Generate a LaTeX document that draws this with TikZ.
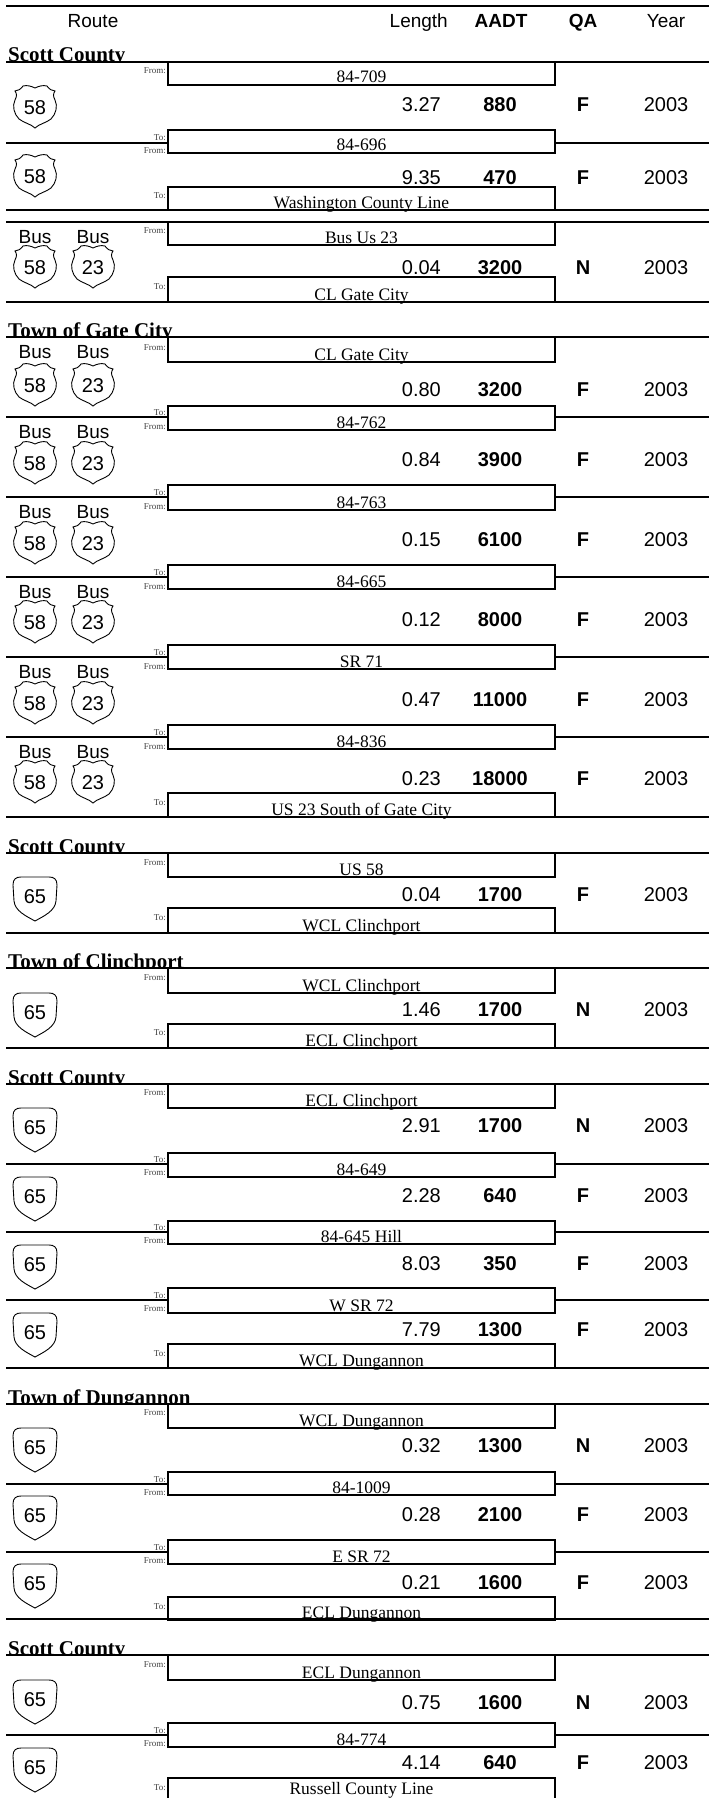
\documentclass[tikz,border=0pt]{standalone}
\usepackage{fontspec}
\setmainfont{Liberation Serif}
\setsansfont{Liberation Sans}
\tikzset{
  usshield/.pic={\draw[line width=0.9pt] (0,-19) .. controls (-4,-21) and (-8,-22) .. (-12,-21)
    .. controls (-14,-18) and (-17,-16) .. (-20,-16) .. controls (-18,-13) and (-18,-11) .. (-20,-7)
    .. controls (-23,-1) and (-21,7) .. (-16,12) .. controls (-11,16) and (-4,17) .. (0,21)
    .. controls (4,17) and (11,16) .. (16,12) .. controls (21,7) and (23,-1) .. (20,-7)
    .. controls (18,-11) and (18,-13) .. (20,-16) .. controls (17,-16) and (14,-18) .. (12,-21)
    .. controls (8,-22) and (4,-21) .. (0,-19) -- cycle;},
  vashield/.pic={\draw[line width=0.9pt] (-14,-22) -- (14,-22) .. controls (19,-22) and (22,-20) .. (22,-14)
    -- (21,2) .. controls (20,12) and (9,17) .. (0,22) .. controls (-9,17) and (-20,12) .. (-21,2)
    -- (-22,-14) .. controls (-22,-20) and (-19,-22) .. (-14,-22) -- cycle;}
}
\begin{document}
\begin{tikzpicture}[x=1pt,y=-1pt]
\tikzstyle{every node}+=[inner sep=0pt]
\tikzstyle{hrule}=[line width=2.5pt]
\tikzstyle{framebox}=[line width=2.5pt]
\tikzstyle{head}=[font=\sffamily\fontsize{19}{19}\selectfont, anchor=base]
\tikzstyle{headb}=[font=\sffamily\bfseries\fontsize{19}{19}\selectfont, anchor=base]
\tikzstyle{sect}=[font=\bfseries\fontsize{21}{21}\selectfont, anchor=base west]
\tikzstyle{placename}=[font=\fontsize{17.5}{17.5}\selectfont, anchor=base]
\tikzstyle{tag}=[font=\fontsize{9}{9}\selectfont, anchor=east, text=black!75]
\tikzstyle{len}=[font=\sffamily\fontsize{20}{20}\selectfont, anchor=east]
\tikzstyle{num}=[font=\sffamily\bfseries\fontsize{20}{20}\selectfont]
\tikzstyle{val}=[font=\sffamily\fontsize{20}{20}\selectfont]
\tikzstyle{routeno}=[font=\sffamily\fontsize{20}{20}\selectfont]
\tikzstyle{bus}=[font=\sffamily\fontsize{19}{19}\selectfont]
\useasboundingbox (0,0) rectangle (709,1798);
\draw (93,28) node[head] (hroute) {Route};
\draw (448,28) node[head, anchor=base east] (hlen) {Length};
\draw (501,28) node[headb] (haadt) {AADT};
\draw (583,28) node[headb] (hqa) {QA};
\draw (666,28) node[head] (hyear) {Year};
\begin{scope}
\clip (0,30) rectangle (300,62) (0,305) rectangle (300,337) (0,820) rectangle (300,853)
  (0,935) rectangle (300,968) (0,1050) rectangle (300,1084) (0,1370) rectangle (300,1404)
  (0,1621) rectangle (300,1655);
\draw (8,62) node[sect] (sec1) {Scott County};
\draw (8,337) node[sect] (sec2) {Town of Gate City};
\draw (8,853) node[sect] (sec3) {Scott County};
\draw (8,968) node[sect] (sec4) {Town of Clinchport};
\draw (8,1084) node[sect] (sec5) {Scott County};
\draw (8,1404) node[sect] (sec6) {Town of Dungannon};
\draw (8,1655) node[sect] (sec7) {Scott County};
\end{scope}
\draw (166,71) node[tag] (fA) {From:};
\draw (166,138) node[tag] (tA) {To:};
\draw (166,151) node[tag] (fB) {From:};
\draw (166,196) node[tag] (tB) {To:};
\draw (166,231) node[tag] (fC) {From:};
\draw (166,287) node[tag] (tC) {To:};
\draw (166,348) node[tag] (fD) {From:};
\draw (166,413) node[tag] (tD) {To:};
\draw (166,427) node[tag] (fE) {From:};
\draw (166,493) node[tag] (tE) {To:};
\draw (166,507) node[tag] (fF) {From:};
\draw (166,573) node[tag] (tF) {To:};
\draw (166,587) node[tag] (fG) {From:};
\draw (166,653) node[tag] (tG) {To:};
\draw (166,667) node[tag] (fH) {From:};
\draw (166,733) node[tag] (tH) {To:};
\draw (166,747) node[tag] (fI) {From:};
\draw (166,803) node[tag] (tI) {To:};
\draw (166,863) node[tag] (fJ) {From:};
\draw (166,918) node[tag] (tJ) {To:};
\draw (166,978) node[tag] (fK) {From:};
\draw (166,1033) node[tag] (tK) {To:};
\draw (166,1093) node[tag] (fL) {From:};
\draw (166,1160) node[tag] (tL) {To:};
\draw (166,1173) node[tag] (fM) {From:};
\draw (166,1228) node[tag] (tM) {To:};
\draw (166,1241) node[tag] (fN) {From:};
\draw (166,1296) node[tag] (tN) {To:};
\draw (166,1309) node[tag] (fO) {From:};
\draw (166,1354) node[tag] (tO) {To:};
\draw (166,1413) node[tag] (fP) {From:};
\draw (166,1480) node[tag] (tP) {To:};
\draw (166,1493) node[tag] (fQ) {From:};
\draw (166,1548) node[tag] (tQ) {To:};
\draw (166,1561) node[tag] (fR) {From:};
\draw (166,1607) node[tag] (tR) {To:};
\draw (166,1665) node[tag] (fS) {From:};
\draw (166,1731) node[tag] (tS) {To:};
\draw (166,1744) node[tag] (fT) {From:};
\draw (166,1788) node[tag] (tT) {To:};
\draw [hrule] (6,6) -- (709,6);
\draw [hrule] (6,62) -- (709,62);
\draw [hrule] (6,143) -- (168,143) (555,143) -- (709,143);
\draw [hrule] (6,210) -- (709,210);
\draw [hrule] (6,222) -- (709,222);
\draw [hrule] (6,302) -- (709,302);
\draw [hrule] (6,337) -- (709,337);
\draw [hrule] (6,417) -- (168,417) (555,417) -- (709,417);
\draw [hrule] (6,497) -- (168,497) (555,497) -- (709,497);
\draw [hrule] (6,577) -- (168,577) (555,577) -- (709,577);
\draw [hrule] (6,657) -- (168,657) (555,657) -- (709,657);
\draw [hrule] (6,737) -- (168,737) (555,737) -- (709,737);
\draw [hrule] (6,817) -- (709,817);
\draw [hrule] (6,853) -- (709,853);
\draw [hrule] (6,933) -- (709,933);
\draw [hrule] (6,968) -- (709,968);
\draw [hrule] (6,1048) -- (709,1048);
\draw [hrule] (6,1084) -- (709,1084);
\draw [hrule] (6,1164) -- (168,1164) (555,1164) -- (709,1164);
\draw [hrule] (6,1232) -- (168,1232) (555,1232) -- (709,1232);
\draw [hrule] (6,1300) -- (168,1300) (555,1300) -- (709,1300);
\draw [hrule] (6,1368) -- (709,1368);
\draw [hrule] (6,1404) -- (709,1404);
\draw [hrule] (6,1484) -- (168,1484) (555,1484) -- (709,1484);
\draw [hrule] (6,1552) -- (168,1552) (555,1552) -- (709,1552);
\draw [hrule] (6,1619) -- (709,1619);
\draw [hrule] (6,1655) -- (709,1655);
\draw [hrule] (6,1735) -- (168,1735) (555,1735) -- (709,1735);
\draw [framebox] (168,62) rectangle (555,85);
\draw (361.5,83) node[placename] (pA) {84-709};
\draw [framebox] (168,130) rectangle (555,153);
\draw (361.5,151) node[placename] (pB) {84-696};
\draw [framebox] (168,187) rectangle (555,210);
\draw (361.5,208) node[placename] (pC) {Washington County Line};
\draw [framebox] (168,222) rectangle (555,245);
\draw (361.5,243) node[placename] (pD) {Bus Us 23};
\draw [framebox] (168,277) rectangle (555,302);
\draw (361.5,300) node[placename] (pE) {CL Gate City};
\draw [framebox] (168,337) rectangle (555,362);
\draw (361.5,360) node[placename] (pF) {CL Gate City};
\draw [framebox] (168,406) rectangle (555,430);
\draw (361.5,428) node[placename] (pG) {84-762};
\draw [framebox] (168,485) rectangle (555,510);
\draw (361.5,508) node[placename] (pH) {84-763};
\draw [framebox] (168,565) rectangle (555,589);
\draw (361.5,587) node[placename] (pI) {84-665};
\draw [framebox] (168,645) rectangle (555,669);
\draw (361.5,667) node[placename] (pJ) {SR 71};
\draw [framebox] (168,725) rectangle (555,749);
\draw (361.5,747) node[placename] (pK) {84-836};
\draw [framebox] (168,793) rectangle (555,817);
\draw (361.5,815) node[placename] (pL) {US 23 South of Gate City};
\draw [framebox] (168,853) rectangle (555,877);
\draw (361.5,875) node[placename] (pM) {US 58};
\draw [framebox] (168,908) rectangle (555,933);
\draw (361.5,931) node[placename] (pN) {WCL Clinchport};
\draw [framebox] (168,968) rectangle (555,993);
\draw (361.5,991) node[placename] (pO) {WCL Clinchport};
\draw [framebox] (168,1024) rectangle (555,1048);
\draw (361.5,1046) node[placename] (pP) {ECL Clinchport};
\draw [framebox] (168,1084) rectangle (555,1108);
\draw (361.5,1106) node[placename] (pQ) {ECL Clinchport};
\draw [framebox] (168,1153) rectangle (555,1177);
\draw (361.5,1175) node[placename] (pR) {84-649};
\draw [framebox] (168,1221) rectangle (555,1244);
\draw (361.5,1242) node[placename] (pS) {84-645 Hill};
\draw [framebox] (168,1288) rectangle (555,1313);
\draw (361.5,1311) node[placename] (pT) {W SR 72};
\draw [framebox] (168,1344) rectangle (555,1368);
\draw (361.5,1366) node[placename] (pU) {WCL Dungannon};
\draw [framebox] (168,1404) rectangle (555,1428);
\draw (361.5,1426) node[placename] (pV) {WCL Dungannon};
\draw [framebox] (168,1472) rectangle (555,1495);
\draw (361.5,1493) node[placename] (pW) {84-1009};
\draw [framebox] (168,1540) rectangle (555,1564);
\draw (361.5,1562) node[placename] (pX) {E SR 72};
\draw [framebox] (168,1597) rectangle (555,1620);
\draw (361.5,1618) node[placename] (pY) {ECL Dungannon};
\draw [framebox] (168,1655) rectangle (555,1680);
\draw (361.5,1678) node[placename] (pZ) {ECL Dungannon};
\draw [framebox] (168,1723) rectangle (555,1747);
\draw (361.5,1745) node[placename] (pZa) {84-774};
\draw [framebox] (168,1778) rectangle (555,1803);
\draw (361.5,1794) node[placename] (pZb) {Russell County Line};
\pic at (35,107) {usshield};
\draw (35,108) node[routeno] (sA) {58};
\pic at (35,176) {usshield};
\draw (35,177) node[routeno] (sB) {58};
\draw (35,237) node[bus] (bC1) {Bus} (93,237) node[bus] (bC2) {Bus};
\pic at (35,267) {usshield};
\pic at (93,267) {usshield};
\draw (35,268) node[routeno] (sC1) {58} (93,268) node[routeno] (sC2) {23};
\draw (35,352) node[bus] (bD1) {Bus} (93,352) node[bus] (bD2) {Bus};
\pic at (35,385) {usshield};
\pic at (93,385) {usshield};
\draw (35,386) node[routeno] (sD1) {58} (93,386) node[routeno] (sD2) {23};
\draw (35,432) node[bus] (bE1) {Bus} (93,432) node[bus] (bE2) {Bus};
\pic at (35,463) {usshield};
\pic at (93,463) {usshield};
\draw (35,464) node[routeno] (sE1) {58} (93,464) node[routeno] (sE2) {23};
\draw (35,512) node[bus] (bF1) {Bus} (93,512) node[bus] (bF2) {Bus};
\pic at (35,543) {usshield};
\pic at (93,543) {usshield};
\draw (35,544) node[routeno] (sF1) {58} (93,544) node[routeno] (sF2) {23};
\draw (35,592) node[bus] (bG1) {Bus} (93,592) node[bus] (bG2) {Bus};
\pic at (35,622) {usshield};
\pic at (93,622) {usshield};
\draw (35,623) node[routeno] (sG1) {58} (93,623) node[routeno] (sG2) {23};
\draw (35,672) node[bus] (bH1) {Bus} (93,672) node[bus] (bH2) {Bus};
\pic at (35,703) {usshield};
\pic at (93,703) {usshield};
\draw (35,704) node[routeno] (sH1) {58} (93,704) node[routeno] (sH2) {23};
\draw (35,752) node[bus] (bI1) {Bus} (93,752) node[bus] (bI2) {Bus};
\pic at (35,782) {usshield};
\pic at (93,782) {usshield};
\draw (35,783) node[routeno] (sI1) {58} (93,783) node[routeno] (sI2) {23};
\pic at (35,899) {vashield};
\draw (35,897) node[routeno] (sJ) {65};
\pic at (35,1015) {vashield};
\draw (35,1013) node[routeno] (sK) {65};
\pic at (35,1130) {vashield};
\draw (35,1128) node[routeno] (sL) {65};
\pic at (35,1199) {vashield};
\draw (35,1197) node[routeno] (sM) {65};
\pic at (35,1267) {vashield};
\draw (35,1265) node[routeno] (sN) {65};
\pic at (35,1335) {vashield};
\draw (35,1333) node[routeno] (sO) {65};
\pic at (35,1450) {vashield};
\draw (35,1448) node[routeno] (sP) {65};
\pic at (35,1518) {vashield};
\draw (35,1516) node[routeno] (sQ) {65};
\pic at (35,1586) {vashield};
\draw (35,1584) node[routeno] (sR) {65};
\pic at (35,1702) {vashield};
\draw (35,1700) node[routeno] (sS) {65};
\pic at (35,1770) {vashield};
\draw (35,1768) node[routeno] (sT) {65};
\draw (441,104.5) node[len] (lA) {3.27} (500,104.5) node[num] (aA) {880} (583,104.5) node[num] (qA) {F} (666,104.5) node[val] (yA) {2003};
\draw (441,177.5) node[len] (lB) {9.35} (500,177.5) node[num] (aB) {470} (583,177.5) node[num] (qB) {F} (666,177.5) node[val] (yB) {2003};
\draw (441,268) node[len] (lC) {0.04} (500,268) node[num] (aC) {3200} (583,268) node[num] (qC) {N} (666,268) node[val] (yC) {2003};
\draw (441,390) node[len] (lD) {0.80} (500,390) node[num] (aD) {3200} (583,390) node[num] (qD) {F} (666,390) node[val] (yD) {2003};
\draw (441,460) node[len] (lE) {0.84} (500,460) node[num] (aE) {3900} (583,460) node[num] (qE) {F} (666,460) node[val] (yE) {2003};
\draw (441,540) node[len] (lF) {0.15} (500,540) node[num] (aF) {6100} (583,540) node[num] (qF) {F} (666,540) node[val] (yF) {2003};
\draw (441,619.5) node[len] (lG) {0.12} (500,619.5) node[num] (aG) {8000} (583,619.5) node[num] (qG) {F} (666,619.5) node[val] (yG) {2003};
\draw (441,699.5) node[len] (lH) {0.47} (500,699.5) node[num] (aH) {11000} (583,699.5) node[num] (qH) {F} (666,699.5) node[val] (yH) {2003};
\draw (441,779) node[len] (lI) {0.23} (500,779) node[num] (aI) {18000} (583,779) node[num] (qI) {F} (666,779) node[val] (yI) {2003};
\draw (441,895) node[len] (lJ) {0.04} (500,895) node[num] (aJ) {1700} (583,895) node[num] (qJ) {F} (666,895) node[val] (yJ) {2003};
\draw (441,1010) node[len] (lK) {1.46} (500,1010) node[num] (aK) {1700} (583,1010) node[num] (qK) {N} (666,1010) node[val] (yK) {2003};
\draw (441,1125.5) node[len] (lL) {2.91} (500,1125.5) node[num] (aL) {1700} (583,1125.5) node[num] (qL) {N} (666,1125.5) node[val] (yL) {2003};
\draw (441,1195.5) node[len] (lM) {2.28} (500,1195.5) node[num] (aM) {640} (583,1195.5) node[num] (qM) {F} (666,1195.5) node[val] (yM) {2003};
\draw (441,1264) node[len] (lN) {8.03} (500,1264) node[num] (aN) {350} (583,1264) node[num] (qN) {F} (666,1264) node[val] (yN) {2003};
\draw (441,1330) node[len] (lO) {7.79} (500,1330) node[num] (aO) {1300} (583,1330) node[num] (qO) {F} (666,1330) node[val] (yO) {2003};
\draw (441,1446) node[len] (lP) {0.32} (500,1446) node[num] (aP) {1300} (583,1446) node[num] (qP) {N} (666,1446) node[val] (yP) {2003};
\draw (441,1515) node[len] (lQ) {0.28} (500,1515) node[num] (aQ) {2100} (583,1515) node[num] (qQ) {F} (666,1515) node[val] (yQ) {2003};
\draw (441,1583) node[len] (lR) {0.21} (500,1583) node[num] (aR) {1600} (583,1583) node[num] (qR) {F} (666,1583) node[val] (yR) {2003};
\draw (441,1702.5) node[len] (lS) {0.75} (500,1702.5) node[num] (aS) {1600} (583,1702.5) node[num] (qS) {N} (666,1702.5) node[val] (yS) {2003};
\draw (441,1762.5) node[len] (lT) {4.14} (500,1762.5) node[num] (aT) {640} (583,1762.5) node[num] (qT) {F} (666,1762.5) node[val] (yT) {2003};
\end{tikzpicture}
\end{document}
